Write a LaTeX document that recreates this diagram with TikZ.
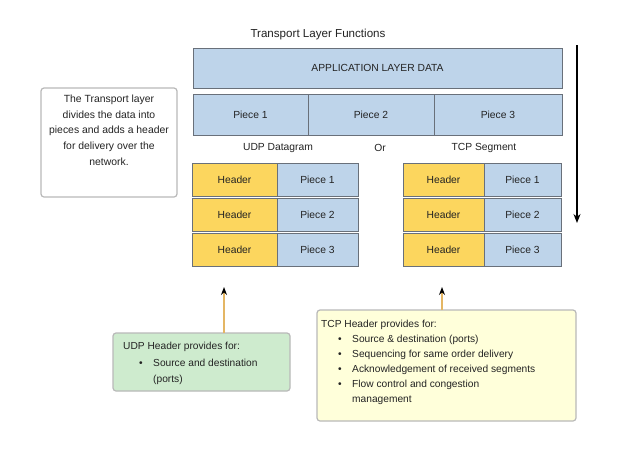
\documentclass[tikz,border=0pt]{standalone}
\usepackage{fontspec}
\setmainfont{Liberation Sans}
\usetikzlibrary{arrows.meta}
\definecolor{blueF}{RGB}{190,212,234}
\definecolor{yelF}{RGB}{252,214,94}
\definecolor{edgeC}{RGB}{105,112,122}
\definecolor{greenF}{RGB}{206,235,206}
\definecolor{noteF}{RGB}{255,255,218}
\definecolor{calloutE}{RGB}{185,185,185}
\definecolor{tanC}{RGB}{228,182,100}
\definecolor{txtC}{RGB}{35,35,35}
\tikzset{
  cell/.style={draw=edgeC, line width=0.9pt, inner sep=0pt, outer sep=0pt, anchor=north west, text=txtC, font=\fontsize{10.3}{12}\selectfont},
  bluecell/.style={cell, fill=blueF},
  yelcell/.style={cell, fill=yelF},
  callout/.style={draw=calloutE, line width=1.2pt, rounded corners=3pt, inner sep=0pt, outer sep=0pt, anchor=north west},
  ctext/.style={anchor=base west, inner sep=0pt, text=txtC, font=\fontsize{10.2}{12}\selectfont},
  lbl/.style={inner sep=0pt, text=txtC, font=\fontsize{10.3}{12}\selectfont},
  uparrow/.style={draw=tanC, line width=1.2pt, -{Stealth[length=8pt,width=6pt,color=black]}},
}
\begin{document}
\begin{tikzpicture}[x=1pt,y=-1pt]
\useasboundingbox (0,0) rectangle (630,461);
\fill[white] (0,0) rectangle (630,461);

% title
\node[lbl, font=\fontsize{11.6}{13}\selectfont] (title) at (318,34) {Transport Layer Functions};

% application layer data
\node[bluecell, minimum width=369pt, minimum height=40pt] (app) at (193,48) {APPLICATION LAYER DATA};

% pieces row
\node[bluecell, minimum width=115pt, minimum height=41pt] (p1) at (193,94) {Piece 1};
\node[bluecell, minimum width=126pt, minimum height=41pt] (p2) at (308,94) {Piece 2};
\node[bluecell, minimum width=128pt, minimum height=41pt] (p3) at (434,94) {Piece 3};

% labels
\node[lbl] (udplbl) at (278,148) {UDP Datagram};
\node[lbl] (orlbl) at (380,148) {Or};
\node[lbl] (tcplbl) at (484,148) {TCP Segment};

% UDP rows
\node[yelcell, minimum width=85pt, minimum height=33pt] (uh1) at (192,163) {Header};
\node[bluecell, minimum width=81pt, minimum height=33pt] (up1) at (277,163) {Piece 1};
\node[yelcell, minimum width=85pt, minimum height=33pt] (uh2) at (192,198) {Header};
\node[bluecell, minimum width=81pt, minimum height=33pt] (up2) at (277,198) {Piece 2};
\node[yelcell, minimum width=85pt, minimum height=33pt] (uh3) at (192,233) {Header};
\node[bluecell, minimum width=81pt, minimum height=33pt] (up3) at (277,233) {Piece 3};

% TCP rows
\node[yelcell, minimum width=81pt, minimum height=33pt] (th1) at (403,163) {Header};
\node[bluecell, minimum width=77pt, minimum height=33pt] (tp1) at (484,163) {Piece 1};
\node[yelcell, minimum width=81pt, minimum height=33pt] (th2) at (403,198) {Header};
\node[bluecell, minimum width=77pt, minimum height=33pt] (tp2) at (484,198) {Piece 2};
\node[yelcell, minimum width=81pt, minimum height=33pt] (th3) at (403,233) {Header};
\node[bluecell, minimum width=77pt, minimum height=33pt] (tp3) at (484,233) {Piece 3};

% right arrow
\coordinate (rtop) at (577,45);
\coordinate (rbot) at (577,223);
\draw[line width=1.3pt, -{Stealth[length=9pt,width=7pt]}] (rtop) -- (rbot);

% left explanation box
\node[callout, fill=white, minimum width=136pt, minimum height=109pt] (lbox) at (41,88) {};
\node[lbl, align=center, anchor=north, font=\fontsize{10.4}{15.6}\selectfont] (ltext) at ([yshift=-7pt]lbox.north)
  {The Transport layer\\divides the data into\\pieces and adds a header\\for delivery over the\\network.};

% UDP callout
\node[callout, fill=greenF, minimum width=177pt, minimum height=58pt] (ubox) at (113,333) {};
\node[ctext] (u0) at (123,349) {UDP Header provides for:};
\node[ctext] (ub1) at (139,366) {•};
\node[ctext] (u1) at (153,366) {Source and destination};
\node[ctext] (u2) at (153,382) {(ports)};
\coordinate (utgt) at (224,287);
\draw[uparrow] (ubox.north -| utgt) -- (utgt);

% TCP callout
\node[callout, fill=noteF, minimum width=259pt, minimum height=111pt] (tbox) at (317,310) {};
\node[ctext] (t0) at (321,327) {TCP Header provides for:};
\node[ctext] (tb1) at (338,342) {•};
\node[ctext] (t1) at (352,342) {Source \& destination (ports)};
\node[ctext] (tb2) at (338,357) {•};
\node[ctext] (t2) at (352,357) {Sequencing for same order delivery};
\node[ctext] (tb3) at (338,372) {•};
\node[ctext] (t3) at (352,372) {Acknowledgement of received segments};
\node[ctext] (tb4) at (338,387) {•};
\node[ctext] (t4) at (352,387) {Flow control and congestion};
\node[ctext] (t5) at (352,402) {management};
\coordinate (ttgt) at (442,287);
\draw[uparrow] (tbox.north -| ttgt) -- (ttgt);
\end{tikzpicture}
\end{document}
